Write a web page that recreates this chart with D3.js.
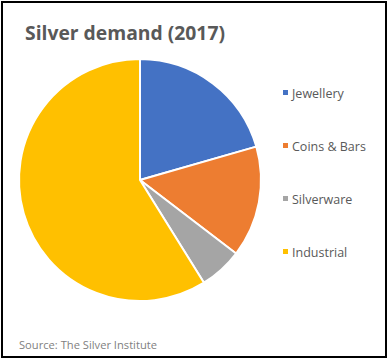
<!DOCTYPE html>
<html><head><meta charset="utf-8">
<script src="https://cdn.jsdelivr.net/npm/d3@7"></script>
<style>html,body{margin:0;padding:0;background:#fff;}svg{display:block;}</style>
</head><body>
<script>
const categories = ["Jewellery", "Coins & Bars", "Silverware", "Industrial"];
const values = [209.1, 151.1, 58.4, 599.0];
const colors = ["#4472C4", "#ED7D31", "#A5A5A5", "#FFC000"];
const title = "Silver demand (2017)";
const source = "Source: The Silver Institute";

const W = 390, H = 361;
const svg = d3.select("body").append("svg").attr("width", W).attr("height", H);
svg.append("rect").attr("x", 0).attr("y", 0).attr("width", W).attr("height", H).attr("fill", "#fff");
svg.append("rect").attr("x", 2).attr("y", 2).attr("width", 384).attr("height", 355)
  .attr("fill", "none").attr("stroke", "#000").attr("stroke-width", 2);

const font = "'Open Sans', 'Noto Sans', sans-serif";
svg.append("text").attr("x", 25).attr("y", 40).text(title)
  .attr("font-family", font).attr("font-weight", "bold").attr("font-size", 19)
  .attr("fill", "#595959").attr("textLength", 200).attr("lengthAdjust", "spacingAndGlyphs");

const data = categories.map((c, i) => ({ c, v: values[i], color: colors[i] }));
const pie = d3.pie().value(d => d.v).sort(null);
const arc = d3.arc().innerRadius(0).outerRadius(121);
const g = svg.append("g").attr("transform", "translate(140,180)");
g.selectAll("path").data(pie(data)).join("path")
  .attr("d", arc).attr("fill", d => d.data.color)
  .attr("stroke", "#fff").attr("stroke-width", 2).attr("stroke-linejoin", "round");

const y = d3.scalePoint().domain(categories).range([98, 257]);
const lg = svg.append("g");
lg.selectAll("rect").data(data).join("rect")
  .attr("x", 283).attr("y", d => y(d.c) - 8).attr("width", 5).attr("height", 5)
  .attr("fill", d => d.color);
lg.selectAll("text").data(data).join("text")
  .attr("x", 292).attr("y", d => y(d.c)).text(d => d.c)
  .attr("font-family", font).attr("font-size", 12.5).attr("fill", "#595959");

svg.append("text").attr("x", 19).attr("y", 349).text(source)
  .attr("font-family", font).attr("font-size", 10).attr("fill", "#7f7f7f")
  .attr("textLength", 138).attr("lengthAdjust", "spacingAndGlyphs");
</script>
</body></html>
